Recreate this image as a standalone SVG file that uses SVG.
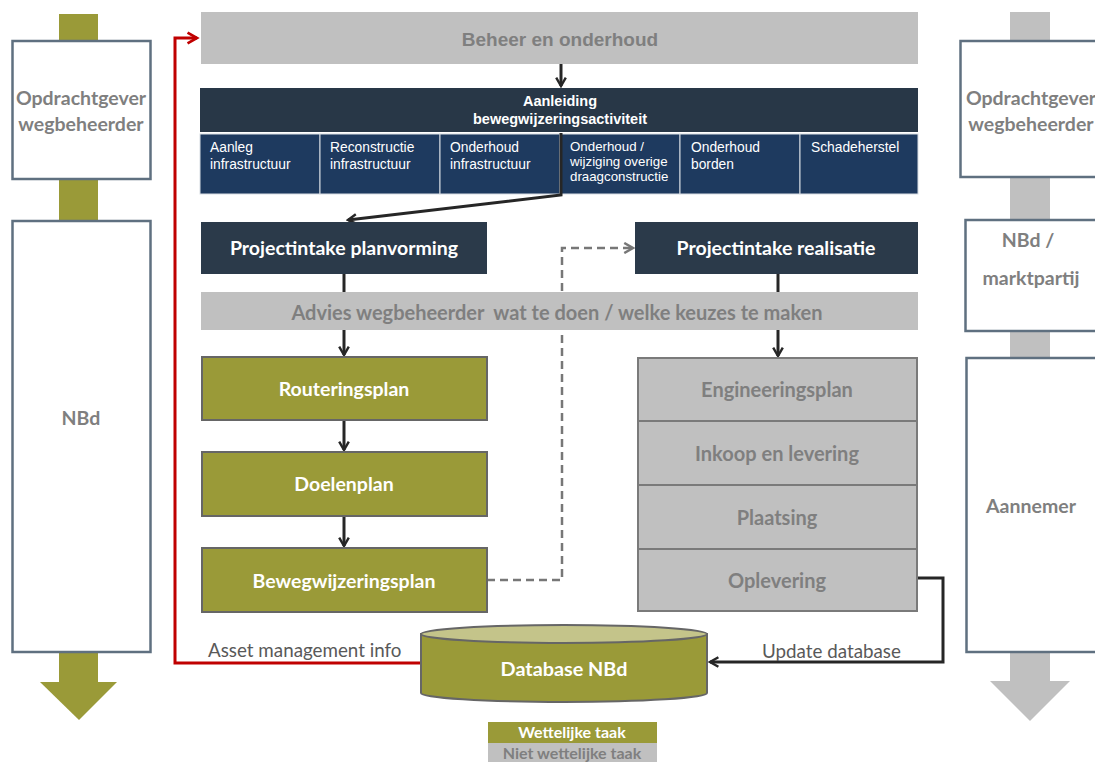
<svg xmlns="http://www.w3.org/2000/svg" width="1095" height="762" viewBox="0 0 1095 762">
<defs>
<style>
.sidebox{fill:#fff;stroke:#5f7080;stroke-width:2.5}
.cal{font-family:Lato,"Open Sans","Liberation Sans",sans-serif;font-weight:bold}
.side{fill:#7f7f7f;font-size:19.5px;text-anchor:middle}
.narrow{font-family:"Liberation Sans Narrow","Liberation Sans",Arial,sans-serif}
.cell{fill:#1e3a5f;stroke:#d8dde4;stroke-width:1}
.celltxt{fill:#fff;font-size:13.8px}
.olive{fill:#9a9a38;stroke:#666;stroke-width:2}
.graybox{fill:#c0c0c0;stroke:#7a7a7a;stroke-width:2}
.wt{fill:#fff;font-size:19.5px;text-anchor:middle}
.gt{fill:#7f7f7f;font-size:20px;text-anchor:middle}
.dark{fill:#2b3a4a}
.conn{fill:none;stroke:#262626;stroke-width:3}
.lbl{font-family:Lato,"Open Sans","Liberation Sans",sans-serif;fill:#595959;font-size:18.8px}
</style>
<marker id="ah" viewBox="0 0 10 10" refX="8" refY="5" markerWidth="4" markerHeight="4" orient="auto" markerUnits="strokeWidth">
<path d="M1,1 L8,5 L1,9" fill="none" stroke="#262626" stroke-width="2"/>
</marker>
<marker id="ahr" viewBox="0 0 10 10" refX="8" refY="5" markerWidth="4.5" markerHeight="4.5" orient="auto" markerUnits="strokeWidth">
<path d="M1,1 L8,5 L1,9" fill="none" stroke="#c00000" stroke-width="2"/>
</marker>
<marker id="ahg" viewBox="0 0 10 10" refX="8" refY="5" markerWidth="5" markerHeight="5" orient="auto" markerUnits="strokeWidth">
<path d="M1,1 L8,5 L1,9" fill="none" stroke="#777" stroke-width="2"/>
</marker>
</defs>
<rect width="1095" height="762" fill="#fff"/>

<g id="left-column">
<rect x="59" y="14" width="39" height="670" fill="#9a9a38"/>
<polygon points="40,682 117,682 79,720" fill="#9a9a38"/>
<rect class="sidebox" x="12.5" y="41" width="138" height="138"/>
<text class="cal side" x="81" y="105">Opdrachtgever</text>
<text class="cal side" x="81" y="131">wegbeheerder</text>
<rect class="sidebox" x="12.5" y="221" width="138" height="431"/>
<text class="cal side" x="81" y="425">NBd</text>
</g>

<g id="right-column">
<rect x="1010" y="12" width="40" height="670" fill="#c0c0c0"/>
<polygon points="990,681 1070,681 1030,721" fill="#c0c0c0"/>
<rect class="sidebox" x="960.5" y="41" width="140" height="136"/>
<text class="cal side" x="1031" y="105">Opdrachtgever</text>
<text class="cal side" x="1031" y="131">wegbeheerder</text>
<rect class="sidebox" x="965.5" y="220" width="135" height="111"/>
<text class="cal side" x="1028" y="247">NBd /</text>
<text class="cal side" x="1031" y="285">marktpartij</text>
<rect class="sidebox" x="966.5" y="358" width="135" height="294"/>
<text class="cal side" x="1031" y="513">Aannemer</text>
</g>

<g id="beheer">
<rect x="201" y="12" width="717" height="52" fill="#c0c0c0"/>
<text class="narrow gt" x="560" y="46" style="font-size:19px;font-weight:bold">Beheer en onderhoud</text>
</g>

<g id="aanleiding">
<rect x="200" y="88" width="718" height="44" fill="#283747"/>
<text class="narrow" x="560" y="106" fill="#fff" font-size="14.5" font-weight="bold" text-anchor="middle">Aanleiding</text>
<text class="narrow" x="560" y="124" fill="#fff" font-size="14.5" font-weight="bold" text-anchor="middle">bewegwijzeringsactiviteit</text>
</g>

<g id="cells">
<rect class="cell" x="200" y="134" width="120" height="60"/>
<rect class="cell" x="320" y="134" width="120" height="60"/>
<rect class="cell" x="440" y="134" width="120" height="60"/>
<rect class="cell" x="560" y="134" width="120" height="60"/>
<rect class="cell" x="680" y="134" width="120" height="60"/>
<rect class="cell" x="800" y="134" width="118" height="60"/>
<g class="narrow celltxt">
<text x="210" y="152">Aanleg</text><text x="210" y="169">infrastructuur</text>
<text x="330" y="152">Reconstructie</text><text x="330" y="169">infrastructuur</text>
<text x="450" y="152">Onderhoud</text><text x="450" y="169">infrastructuur</text>
<text x="570" y="151" font-size="13.3">Onderhoud /</text><text x="570" y="166" font-size="13.3">wijziging overige</text><text x="570" y="181" font-size="13.3">draagconstructie</text>
<text x="691" y="152">Onderhoud</text><text x="691" y="169">borden</text>
<text x="811" y="152">Schadeherstel</text>
</g>
</g>

<g id="connectors">
<line class="conn" x1="561" y1="64" x2="561" y2="86" marker-end="url(#ah)"/>
<polyline class="conn" points="561,133 561,195 348,220" marker-end="url(#ah)"/>
<line class="conn" x1="344" y1="274" x2="344" y2="293"/>
<line class="conn" x1="778" y1="274" x2="778" y2="293"/>
<line class="conn" x1="344" y1="330" x2="344" y2="355" marker-end="url(#ah)"/>
<line class="conn" x1="778" y1="330" x2="778" y2="356" marker-end="url(#ah)"/>
<line class="conn" x1="344" y1="420" x2="344" y2="450" marker-end="url(#ah)"/>
<line class="conn" x1="344" y1="516" x2="344" y2="546" marker-end="url(#ah)"/>
<polyline points="487,580 562,580 562,248 633,248" fill="none" stroke="#777" stroke-width="2.5" stroke-dasharray="8,5" marker-end="url(#ahg)"/>
<polyline class="conn" points="917,578 943,578 943,662 710,662" marker-end="url(#ah)"/>
<polyline points="421,663 175,663 175,38 197,38" fill="none" stroke="#c00000" stroke-width="3" marker-end="url(#ahr)"/>
<text class="lbl" x="208" y="657">Asset management info</text>
<text class="lbl" x="762" y="658">Update database</text>
</g>

<g id="intake-planvorming">
<rect class="dark" x="201" y="222" width="286" height="52"/>
<text class="cal wt" x="344" y="255">Projectintake planvorming</text>
</g>
<g id="intake-realisatie">
<rect class="dark" x="635" y="222" width="283" height="52"/>
<text class="cal wt" x="776" y="255">Projectintake realisatie</text>
</g>

<g id="advies">
<rect x="201" y="292" width="717" height="38" fill="#c0c0c0"/>
<text class="cal gt" x="557" y="320" xml:space="preserve">Advies wegbeheerder  wat te doen / welke keuzes te maken</text>
</g>

<g id="routeringsplan">
<rect class="olive" x="202" y="357" width="285" height="63"/>
<text class="cal wt" x="344" y="396">Routeringsplan</text>
</g>
<g id="doelenplan">
<rect class="olive" x="202" y="452" width="285" height="64"/>
<text class="cal wt" x="344" y="491">Doelenplan</text>
</g>
<g id="bewegwijzeringsplan">
<rect class="olive" x="202" y="548" width="285" height="64"/>
<text class="cal wt" x="344" y="588">Bewegwijzeringsplan</text>
</g>

<g id="engineeringsplan">
<rect class="graybox" x="638" y="358" width="279" height="63"/>
<text class="cal gt" x="777" y="397">Engineeringsplan</text>
</g>
<g id="inkoop">
<rect class="graybox" x="638" y="421" width="279" height="64"/>
<text class="cal gt" x="777" y="461">Inkoop en levering</text>
</g>
<g id="plaatsing">
<rect class="graybox" x="638" y="485" width="279" height="64"/>
<text class="cal gt" x="777" y="525">Plaatsing</text>
</g>
<g id="oplevering">
<rect class="graybox" x="638" y="549" width="279" height="62"/>
<text class="cal gt" x="777" y="588">Oplevering</text>
</g>

<g id="database">
<path d="M421,634 L421,693 A143,9 0 0 0 707,693 L707,634 Z" fill="#9a9a38" stroke="#666" stroke-width="2"/>
<ellipse cx="564" cy="634" rx="143" ry="9" fill="#c4c48a" stroke="#666" stroke-width="2"/>
<text class="cal wt" x="564" y="676" style="font-size:19.8px">Database NBd</text>
</g>

<g id="legend">
<rect x="488" y="722" width="169" height="21" fill="#9a9a38"/>
<text class="cal" x="572" y="738" fill="#fff" font-size="16" text-anchor="middle">Wettelijke taak</text>
<rect x="488" y="743" width="169" height="20" fill="#c0c0c0"/>
<text class="cal" x="572" y="759" fill="#7f7f7f" font-size="16" text-anchor="middle">Niet wettelijke taak</text>
</g>
</svg>
